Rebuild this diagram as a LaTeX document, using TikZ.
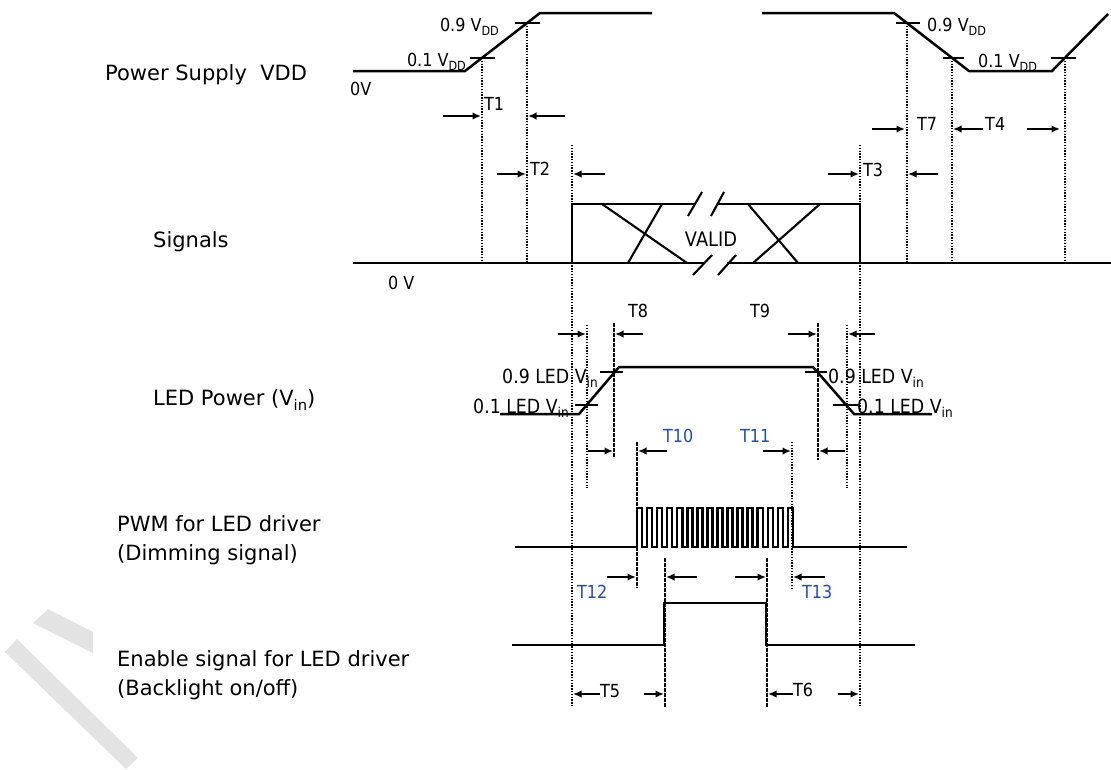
\documentclass[tikz,border=0pt]{standalone}
\usepackage{fontspec}
\usepackage{graphicx}
\setmainfont{DejaVu Sans}
\newfontfamily\narrowfont[FakeStretch=0.89]{DejaVu Sans}
\usetikzlibrary{arrows.meta}
\definecolor{tblue}{RGB}{40,75,165}
\newcommand\mysub[1]{\raisebox{-0.25em}{\scalebox{0.7}{#1}}}
\begin{document}
\begin{tikzpicture}[x=1pt,y=-1pt,
  wave/.style={line width=2.5pt,line join=miter},
  tickmark/.style={line width=2.2pt},
  dotl/.style={line width=1.5pt,dash pattern=on 1.3pt off 1.5pt},
  dashl/.style={line width=1.7pt,dash pattern=on 3.5pt off 1.5pt},
  tarr/.style={line width=2pt,-{Latex[length=8.5pt,width=7.5pt]}},
  biglbl/.style={font=\fontsize{21}{25}\selectfont,inner sep=0,anchor=base west},
  sm/.style={font=\narrowfont\fontsize{18}{21}\selectfont,inner sep=0},
  ledl/.style={font=\narrowfont\fontsize{19.5}{22}\selectfont,inner sep=0},
  smw/.style={sm,anchor=base west},
  sme/.style={sm,anchor=base east},
  bl/.style={text=tblue}]
\useasboundingbox (0,0) rectangle (1111,769);
\fill[white] (0,0) rectangle (1111,769);
% watermark
\fill[gray!22] (33,623) -- (48,609) -- (93,632) -- (93,653) -- cycle;
\fill[gray!22] (5,652) -- (17,639) -- (138,758) -- (126,769) -- cycle;

% ---------- left labels
\node[biglbl] (lps) at (105,80) {Power Supply\ \ VDD};
\node[biglbl] (lsig) at (153,247) {Signals};
\node[biglbl] (lled) at (153,405) {LED Power (V\mysub{in})};
\node[biglbl] (lpwm1) at (117,531) {PWM for LED driver};
\node[biglbl] (lpwm2) at (117,560) {(Dimming signal)};
\node[biglbl] (len1) at (117,666) {Enable signal for LED driver};
\node[biglbl] (len2) at (117,695) {(Backlight on/off)};

% ---------- dotted / dashed verticals
\draw[dotl] (482,58) -- (482,263);
\draw[dotl] (527,23) -- (527,263);
\draw[dotl] (572,145) -- (572,707);
\draw[dotl] (860,145) -- (860,707);
\draw[dotl] (907,23) -- (907,263);
\draw[dotl] (952,58) -- (952,263);
\draw[dotl] (1065,58) -- (1065,263);
\draw[dotl] (587,325) -- (587,488);
\draw[dashl] (614,323) -- (614,457);
\draw[dashl] (818,323) -- (818,460);
\draw[dotl] (847,325) -- (847,488);
\draw[dashl] (637,442) -- (637,588);
\draw[dotl] (792,442) -- (792,588);
\draw[dashl] (665,558) -- (665,707);
\draw[dashl] (767,558) -- (767,707);

% ---------- power supply
\draw[wave] (353,71) -- (465,71) -- (540,13) -- (652,13);
\draw[wave] (762,13) -- (894,13) -- (969,71) -- (1052,71) -- (1108,14);
\draw[tickmark] (470,58) -- (495,58);
\draw[tickmark] (515,23) -- (540,23);
\draw[tickmark] (896,23) -- (920,23);
\draw[tickmark] (943,58) -- (964,58);
\draw[tickmark] (1051,58) -- (1076,58);
\node[sme] (p01) at (466,66) {0.1 V\mysub{DD}};
\node[sme] (p09) at (499,31) {0.9 V\mysub{DD}};
\node[smw] (p09r) at (927,31) {0.9 V\mysub{DD}};
\node[smw] (p01r) at (978,67) {0.1 V\mysub{DD}};
\node[smw] (zv1) at (350,95) {0V};
\node[smw] (t1) at (484,110) {T1};
\draw[tarr] (443,116) -- (481,116);
\draw[tarr] (565,116) -- (528,116);
\node[smw] (t7) at (917,130) {T7};
\node[smw] (t4) at (985,130) {T4};
\draw[tarr] (872,129) -- (905,129);
\draw[tarr] (983,129) -- (953,129);
\draw[tarr] (1027,129) -- (1060,129);

% ---------- signals
\draw[wave] (353,263) -- (704,263);
\draw[wave] (727,263) -- (1111,263);
\draw[wave] (572,263) -- (572,204) -- (695,204);
\draw[wave] (717,204) -- (860,204) -- (860,263);
\draw[line width=2.1pt] (688,216) -- (702,192);
\draw[line width=2.1pt] (711,216) -- (724,192);
\draw[line width=2.1pt] (693,275) -- (712,255);
\draw[line width=2.1pt] (718,275) -- (736,255);
\draw[line width=2.1pt] (602,204) -- (687,263);
\draw[line width=2.1pt] (628,263) -- (662,204);
\draw[line width=2.1pt] (748,204) -- (798,263);
\draw[line width=2.1pt] (753,263) -- (820,204);
\node[inner sep=0,font=\narrowfont\fontsize{20}{23}\selectfont] (valid) at (711,239) {VALID};
\node[smw] (zv2) at (388,289) {0 V};
\node[smw] (t2) at (530,175) {T2};
\node[smw] (t3) at (863,176) {T3};
\draw[tarr] (497,174) -- (526,174);
\draw[tarr] (605,174) -- (573,174);
\draw[tarr] (828,174) -- (859,174);
\draw[tarr] (938,174) -- (908,174);

% ---------- LED power
\draw[wave] (500,414) -- (579,414) -- (619,367) -- (813,367) -- (854,414) -- (932,414);
\draw[tickmark] (575,405) -- (598,405);
\draw[tickmark] (600,372) -- (623,372);
\draw[tickmark] (805,372) -- (827,372);
\draw[tickmark] (833,405) -- (858,405);
\node[ledl,anchor=base east] (l09) at (598,383) {0.9 LED V\mysub{in}};
\node[ledl,anchor=base east] (l01) at (569,413) {0.1 LED V\mysub{in}};
\node[ledl,anchor=base west] (l09r) at (828,383) {0.9 LED V\mysub{in}};
\node[ledl,anchor=base west] (l01r) at (857,413) {0.1 LED V\mysub{in}};
\node[smw] (t8) at (628,317) {T8};
\node[smw] (t9) at (750,317) {T9};
\draw[tarr] (558,334) -- (586,334);
\draw[tarr] (643,334) -- (615,334);
\draw[tarr] (788,334) -- (817,334);
\draw[tarr] (875,334) -- (848,334);
\node[smw,bl] (t10) at (663,442) {T10};
\node[smw,bl] (t11) at (740,442) {T11};
\draw[tarr] (588,451) -- (613,451);
\draw[tarr] (667,451) -- (638,451);
\draw[tarr] (763,451) -- (791,451);
\draw[tarr] (845,451) -- (819,451);

% ---------- PWM
\draw[wave] (515,547) -- (637,547)
  \foreach \i in {0,...,15} { -- ++(0,-39) -- ++(5.03,0) -- ++(0,39) \ifnum\i<15 -- ++(5.03,0)\fi }
  -- (907,547);
\node[smw,bl] (t12) at (577,598) {T12};
\node[smw,bl] (t13) at (802,598) {T13};
\draw[tarr] (607,577) -- (636,577);
\draw[tarr] (697,577) -- (666,577);
\draw[tarr] (735,577) -- (766,577);
\draw[tarr] (825,577) -- (793,577);

% ---------- enable
\draw[wave] (512,645) -- (664,645) -- (664,603) -- (766,603) -- (766,645) -- (915,645);
\node[smw] (t5) at (600,697) {T5};
\node[smw] (t6) at (793,696) {T6};
\draw[tarr] (600,694) -- (573,694);
\draw[tarr] (644,694) -- (664,694);
\draw[tarr] (793,694) -- (768,694);
\draw[tarr] (838,694) -- (859,694);
\end{tikzpicture}
\end{document}
